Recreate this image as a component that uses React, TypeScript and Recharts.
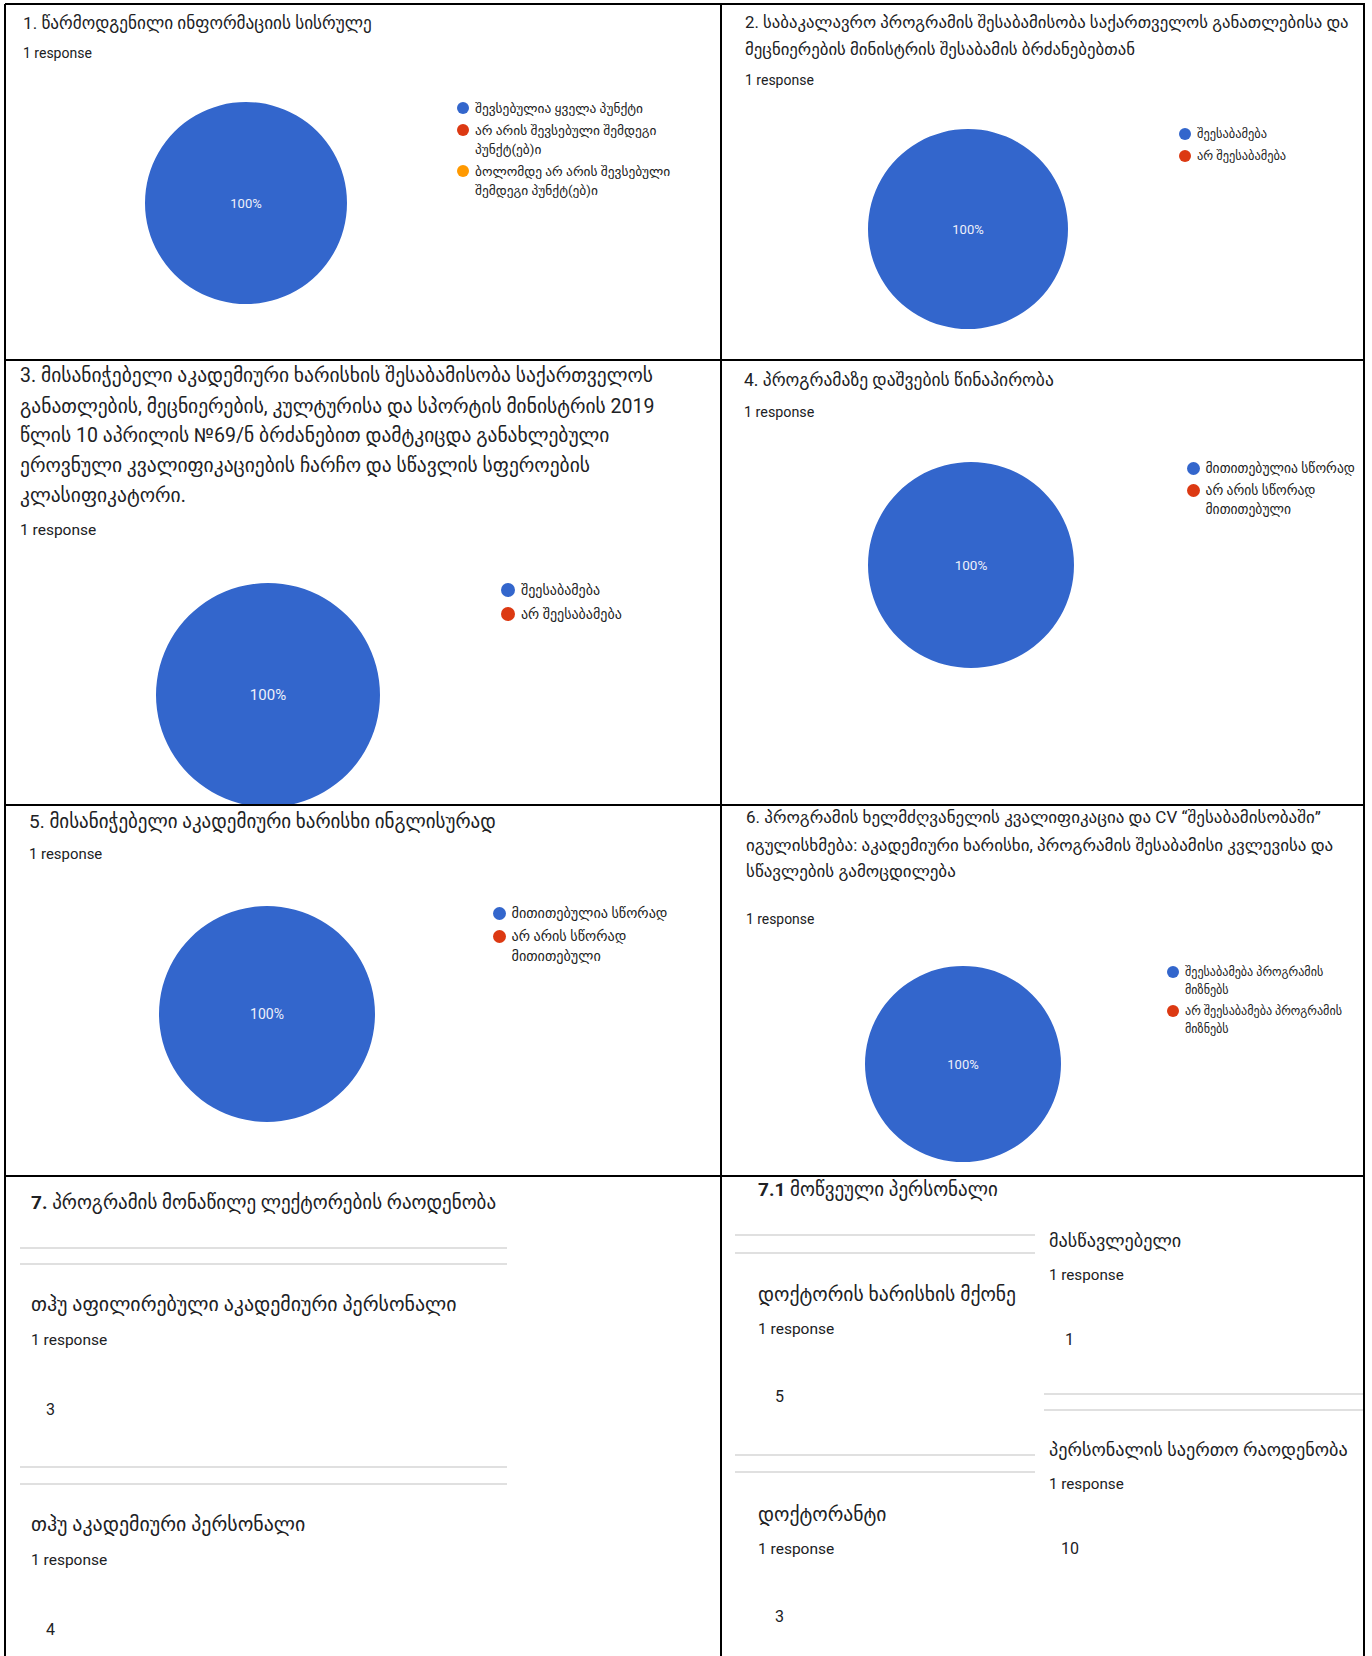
import React from "react";
import { PieChart, Pie, Cell, Legend } from "recharts";

const FONT = "Roboto, 'DejaVu Sans', sans-serif";
const BLUE = "#3366cc";
const RED = "#dc3912";
const ORANGE = "#ff9900";

// question 1
const q1Title = ["1. წარმოდგენილი ინფორმაციის სისრულე"];
const q1Labels = [
  "შევსებულია ყველა პუნქტი",
  "არ არის შევსებული შემდეგი\nპუნქტ(ებ)ი",
  "ბოლომდე არ არის შევსებული\nშემდეგი პუნქტ(ებ)ი",
];
const q1Values = [1, 0, 0];
const q1Colors = [BLUE, RED, ORANGE];

// question 2
const q2Title = [
  "2. საბაკალავრო პროგრამის შესაბამისობა საქართველოს განათლებისა და",
  "მეცნიერების მინისტრის შესაბამის ბრძანებებთან",
];
const q2Labels = ["შეესაბამება", "არ შეესაბამება"];
const q2Values = [1, 0];
const q2Colors = [BLUE, RED];

// question 3
const q3Title = [
  "3. მისანიჭებელი აკადემიური ხარისხის შესაბამისობა საქართველოს",
  "განათლების, მეცნიერების, კულტურისა და სპორტის მინისტრის 2019",
  "წლის 10 აპრილის №69/ნ ბრძანებით დამტკიცდა განახლებული",
  "ეროვნული კვალიფიკაციების ჩარჩო და სწავლის სფეროების",
  "კლასიფიკატორი.",
];
const q3Labels = ["შეესაბამება", "არ შეესაბამება"];
const q3Values = [1, 0];
const q3Colors = [BLUE, RED];

// question 4
const q4Title = ["4. პროგრამაზე დაშვების წინაპირობა"];
const q4Labels = ["მითითებულია სწორად", "არ არის სწორად\nმითითებული"];
const q4Values = [1, 0];
const q4Colors = [BLUE, RED];

// question 5
const q5Title = ["5. მისანიჭებელი აკადემიური ხარისხი ინგლისურად"];
const q5Labels = ["მითითებულია სწორად", "არ არის სწორად\nმითითებული"];
const q5Values = [1, 0];
const q5Colors = [BLUE, RED];

// question 6
const q6Title = [
  "6. პროგრამის ხელმძღვანელის კვალიფიკაცია და CV “შესაბამისობაში”",
  "იგულისხმება: აკადემიური ხარისხი, პროგრამის შესაბამისი კვლევისა და",
  "სწავლების გამოცდილება",
];
const q6Labels = ["შეესაბამება პროგრამის\nმიზნებს", "არ შეესაბამება პროგრამის\nმიზნებს"];
const q6Values = [1, 0];
const q6Colors = [BLUE, RED];

// question 7
const q7Title = "პროგრამის მონაწილე ლექტორების რაოდენობა";
const q7Labels = ["თჰუ აფილირებული აკადემიური პერსონალი", "თჰუ აკადემიური პერსონალი"];
const q7Counts = [3, 4];

const q71Title = "მოწვეული პერსონალი";
const q71Labels = ["დოქტორის ხარისხის მქონე", "დოქტორანტი", "მასწავლებელი", "პერსონალის საერთო რაოდენობა"];
const q71Counts = [5, 3, 1, 10];

const responses = 1;

function Txt({ x, y, size, color = "#202124", weight = 400, children }: any) {
  const lh = Math.round(size * 1.4);
  return (
    <div
      style={{
        position: "absolute",
        left: x,
        top: y - lh / 2,
        fontSize: size,
        lineHeight: lh + "px",
        color,
        fontWeight: weight,
        whiteSpace: "nowrap",
        fontFamily: FONT,
      }}
    >
      {children}
    </div>
  );
}

const pctLabel = (size: number) => (props: any) => {
  const { cx, cy, percent, midAngle, outerRadius } = props;
  if (!percent) return null;
  let x = cx;
  let y = cy;
  if (percent < 0.999) {
    const RAD = Math.PI / 180;
    x = cx + outerRadius * 0.6 * Math.cos(-midAngle * RAD);
    y = cy + outerRadius * 0.6 * Math.sin(-midAngle * RAD);
  }
  return (
    <text x={x} y={y} fill="#eef0fa" textAnchor="middle" dominantBaseline="central" fontSize={size} fontFamily={FONT}>
      {`${Math.round(percent * 100)}%`}
    </text>
  );
};

function PiePanel(p: any) {
  const data = p.labels.map((name: string, i: number) => ({ name, value: p.values[i], fill: p.colors[i] }));
  const lg = p.legend;
  const renderLegend = ({ payload }: any) => {
    const items = (payload || []).slice().sort((a: any, b: any) => p.labels.indexOf(a.value) - p.labels.indexOf(b.value));
    return (
      <div style={{ fontFamily: FONT, fontSize: lg.font, color: "#222" }}>
        {items.map((it: any, i: number) => (
          <div key={i} style={{ display: "flex", alignItems: "flex-start", marginBottom: lg.gap }}>
            <span
              style={{
                width: lg.dot,
                height: lg.dot,
                borderRadius: "50%",
                background: it.color,
                marginTop: (lg.lh - lg.dot) / 2,
                flex: "none",
              }}
            />
            <span style={{ marginLeft: 6, lineHeight: lg.lh + "px", whiteSpace: "pre" }}>{it.value}</span>
          </div>
        ))}
      </div>
    );
  };
  return (
    <>
      {p.title.map((line: string, i: number) => (
        <Txt key={i} x={p.titleX} y={p.titleYs[i]} size={p.titleSize}>
          {line}
        </Txt>
      ))}
      <Txt x={p.titleX} y={p.respY} size={p.respSize}>
        {responses} response
      </Txt>
      <div style={{ position: "absolute", left: p.box[0], top: p.box[1] }}>
        <PieChart width={p.box[2]} height={p.box[3]} margin={{ top: 0, right: 0, bottom: 0, left: 0 }}>
          <Pie
            data={data}
            dataKey="value"
            nameKey="name"
            cx={p.pie[0] - p.box[0]}
            cy={p.pie[1] - p.box[1]}
            outerRadius={p.pie[2]}
            startAngle={90}
            endAngle={-270}
            stroke="none"
            label={pctLabel(p.pctSize)}
            labelLine={false}
            isAnimationActive={false}
          >
            {data.map((d: any, i: number) => (
              <Cell key={`cell-${i}`} fill={d.fill} />
            ))}
          </Pie>
          <Legend
            content={renderLegend}
            wrapperStyle={{
              position: "absolute",
              left: lg.x - lg.dot / 2 - p.box[0],
              top: lg.y - lg.lh / 2 - p.box[1],
              width: "auto",
              height: "auto",
            }}
          />
        </PieChart>
      </div>
    </>
  );
}

function Stat({ x, y, label, sub, resp = 15.5 }: any) {
  return (
    <>
      <Txt x={x} y={y} size={sub}>
        {label}
      </Txt>
      <Txt x={x} y={y + 35} size={resp}>
        {responses} response
      </Txt>
    </>
  );
}

function HLine({ x1, x2, y, color = "#e0e0e0", w = 2 }: any) {
  return <div style={{ position: "absolute", left: x1, top: y - w / 2, width: x2 - x1, height: w, background: color }} />;
}
function VLine({ x, y1, y2, w = 2 }: any) {
  return <div style={{ position: "absolute", left: x - w / 2, top: y1, width: w, height: y2 - y1, background: "#000" }} />;
}

export default function App() {
  return (
    <div style={{ position: "relative", width: 1372, height: 1656, background: "#fff", overflow: "hidden", fontFamily: FONT }}>
      <style>{`body{margin:0}`}</style>

      <PiePanel
        box={[6, 5, 715, 355]}
        title={q1Title}
        titleX={23}
        titleYs={[23]}
        titleSize={17.2}
        respY={53}
        respSize={14}
        pie={[246, 203, 101]}
        pctSize={13}
        labels={q1Labels}
        values={q1Values}
        colors={q1Colors}
        legend={{ x: 463, y: 108, font: 13.4, lh: 19, gap: 3, dot: 12 }}
      />
      <PiePanel
        box={[722, 5, 642, 355]}
        title={q2Title}
        titleX={745}
        titleYs={[22, 49]}
        titleSize={16.8}
        respY={80}
        respSize={14}
        pie={[968, 229, 100]}
        pctSize={13}
        labels={q2Labels}
        values={q2Values}
        colors={q2Colors}
        legend={{ x: 1185, y: 134, font: 12.4, lh: 20, gap: 2, dot: 12 }}
      />
      <PiePanel
        box={[6, 361, 715, 444]}
        title={q3Title}
        titleX={20}
        titleYs={[375, 406, 435, 465, 495]}
        titleSize={19.5}
        respY={530}
        respSize={15.5}
        pie={[268, 695, 112]}
        pctSize={15}
        labels={q3Labels}
        values={q3Values}
        colors={q3Colors}
        legend={{ x: 508, y: 590, font: 14, lh: 21, gap: 3, dot: 14 }}
      />
      <PiePanel
        box={[722, 361, 642, 444]}
        title={q4Title}
        titleX={744}
        titleYs={[380]}
        titleSize={17.5}
        respY={412}
        respSize={14.3}
        pie={[971, 565, 103]}
        pctSize={13.5}
        labels={q4Labels}
        values={q4Values}
        colors={q4Colors}
        legend={{ x: 1193, y: 468, font: 13.6, lh: 19, gap: 3, dot: 13 }}
      />
      <PiePanel
        box={[6, 806, 715, 370]}
        title={q5Title}
        titleX={29}
        titleYs={[821]}
        titleSize={19}
        respY={854}
        respSize={14.9}
        pie={[267, 1014, 108]}
        pctSize={14}
        labels={q5Labels}
        values={q5Values}
        colors={q5Colors}
        legend={{ x: 499, y: 913, font: 14.2, lh: 20, gap: 3, dot: 13 }}
      />
      <PiePanel
        box={[722, 806, 642, 370]}
        title={q6Title}
        titleX={746}
        titleYs={[817, 845, 871]}
        titleSize={17}
        respY={919}
        respSize={13.9}
        pie={[963, 1064, 98]}
        pctSize={13}
        labels={q6Labels}
        values={q6Values}
        colors={q6Colors}
        legend={{ x: 1173, y: 972, font: 12.1, lh: 18, gap: 3, dot: 12 }}
      />

      {/* section 7 */}
      <Txt x={31} y={1202} size={19}>
        <b>7.</b> {q7Title}
      </Txt>
      <HLine x1={20} x2={507} y={1248} />
      <HLine x1={20} x2={507} y={1264} />
      <Stat x={31} y={1305} label={q7Labels[0]} sub={19.9} />
      <Txt x={46} y={1410} size={16}>{q7Counts[0]}</Txt>
      <HLine x1={20} x2={507} y={1467} />
      <HLine x1={20} x2={507} y={1484} />
      <Stat x={31} y={1525} label={q7Labels[1]} sub={19.9} />
      <Txt x={46} y={1630} size={16}>{q7Counts[1]}</Txt>

      <Txt x={758} y={1189} size={19}>
        <b>7.1</b> {q71Title}
      </Txt>
      <HLine x1={735} x2={1035} y={1235} />
      <HLine x1={735} x2={1035} y={1253} />
      <Stat x={758} y={1294} label={q71Labels[0]} sub={19.6} />
      <Txt x={775} y={1397} size={16}>{q71Counts[0]}</Txt>
      <HLine x1={735} x2={1035} y={1455} />
      <HLine x1={735} x2={1035} y={1472} />
      <Stat x={758} y={1514} label={q71Labels[1]} sub={19.6} />
      <Txt x={775} y={1617} size={16}>{q71Counts[1]}</Txt>

      <Stat x={1049} y={1240} label={q71Labels[2]} sub={18.2} resp={15.2} />
      <Txt x={1065} y={1340} size={16}>{q71Counts[2]}</Txt>
      <HLine x1={1044} x2={1364} y={1394} />
      <HLine x1={1044} x2={1364} y={1410} />
      <Stat x={1049} y={1449} label={q71Labels[3]} sub={18.2} resp={15.2} />
      <Txt x={1061} y={1549} size={16}>{q71Counts[3]}</Txt>

      {/* grid borders */}
      <HLine x1={5} x2={1365} y={4} color="#000" />
      <HLine x1={5} x2={1365} y={360} color="#000" />
      <HLine x1={5} x2={1365} y={805} color="#000" />
      <HLine x1={5} x2={1365} y={1176} color="#000" />
      <VLine x={5} y1={4} y2={1656} />
      <VLine x={721} y1={4} y2={1656} />
      <VLine x={1364} y1={4} y2={1656} />
    </div>
  );
}
